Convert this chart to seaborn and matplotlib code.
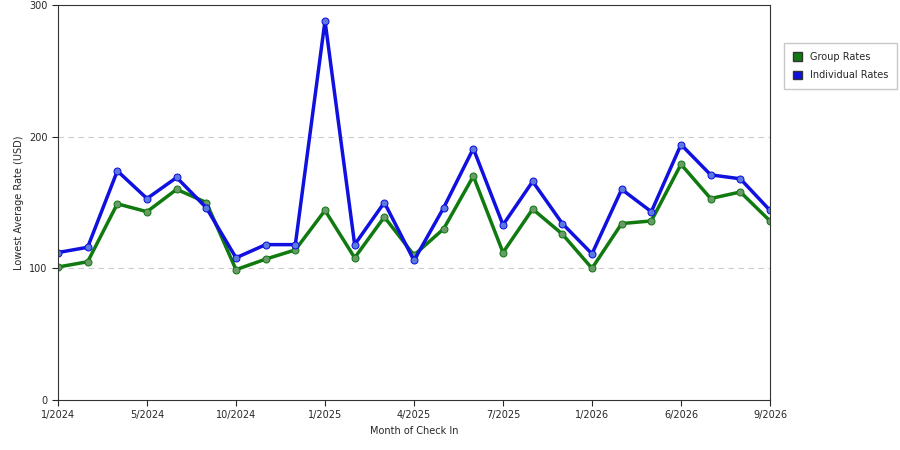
import matplotlib
matplotlib.use("Agg")
import matplotlib.pyplot as plt
import seaborn as sns
import pandas as pd

tick_labels = ["1/2024","5/2024","10/2024","1/2025","4/2025","7/2025","1/2026","6/2026","9/2026"]
group_rates = [101,105,149,143,160,150,99,107,114,144,108,139,110,130,170,112,145,126,100,134,136,179,153,158,136]
indiv_rates = [112,116,174,153,169,146,108,118,118,288,118,150,106,146,191,133,166,134,111,160,143,194,171,168,144]

idx = list(range(len(group_rates)))
df = pd.DataFrame({"i": idx*2, "rate": group_rates+indiv_rates,
                   "series": ["Group Rates"]*len(idx)+["Individual Rates"]*len(idx)})

sns.set_style("white")
plt.rcParams['font.family'] = ['DejaVu Sans']
fig = plt.figure(figsize=(9,4.5), dpi=100)
ax = fig.add_axes([58/900, 50/450, 712/900, 395/450])
pal = {"Group Rates": "#107a10", "Individual Rates": "#1010e0"}
for name in ["Group Rates","Individual Rates"]:
    d = df[df.series==name]
    sns.lineplot(data=d, x="i", y="rate", ax=ax, color=pal[name], lw=2.5,
                 marker="o", markersize=5, markeredgecolor=pal[name],
                 markerfacecolor="#6a9a6a" if name=="Group Rates" else "#5a7ae0", label=name, legend=False)
ax.set_xlim(0, len(idx)-1)
ax.set_ylim(0, 300)
ax.set_yticks([0,100,200,300])
ax.set_xticks(idx[::3])
ax.set_xticklabels(tick_labels)
ax.tick_params(labelsize=7, length=4, direction="out", bottom=True, left=True)
for y in [100,200]:
    ax.axhline(y, color="#cccccc", ls=(0,(5,4)), lw=0.8, zorder=0)
for s in ax.spines.values():
    s.set_color("#333333"); s.set_linewidth(0.8)
ax.set_xlabel("Month of Check In", fontsize=7)
ax.set_ylabel("Lowest Average Rate (USD)", fontsize=7)
from matplotlib.patches import Patch
h = [Patch(facecolor="#107a10", edgecolor="#333"), Patch(facecolor="#1010e0", edgecolor="#333")]
leg = fig.legend(h, ["Group Rates","Individual Rates"], loc="upper left",
                 bbox_to_anchor=(779/900, 1-38/450), fontsize=7, frameon=True,
                 fancybox=False, edgecolor="#bbbbbb", handlelength=1.0, handleheight=1.0,
                 labelspacing=0.9, borderpad=0.9, handletextpad=0.8)
fig.savefig("out.png", dpi=100)
